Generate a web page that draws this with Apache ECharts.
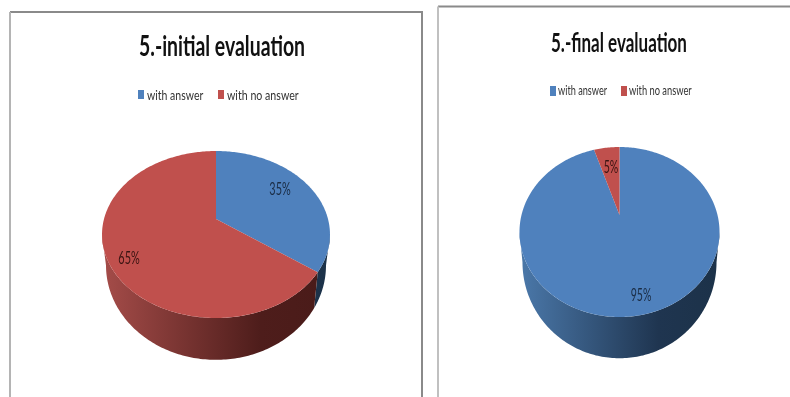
<!DOCTYPE html>
<html><head><meta charset="utf-8">
<style>html,body{margin:0;padding:0;background:#fff}#c{width:790px;height:397px;filter:blur(0.4px)}</style>
<script src="https://cdn.jsdelivr.net/npm/echarts@6/dist/echarts.min.js"></script>
</head><body><div id="c"></div>
<script>
const categories = ['with answer', 'with no answer'];
const initialValues = [35, 65];
const finalValues = [95, 5];
const titles = ['5.-initial evaluation', '5.-final evaluation'];

const topColors = ['#4f81bd', '#c0504d'];
const wallStops = [
  [[0, '#4a77a8'], [0.7, '#1f3550'], [1, '#1c3249']],
  [[0, '#a34b48'], [0.7, '#4e1d1b'], [1, '#4a1b19']]
];
const labelColors = ['#1a2c44', '#3a1412'];
const FONT = 'Lato,"Open Sans",sans-serif';

const discs = [
  {values: initialValues, cx: 216, cy: 219, a: 112, b: 80.6, k: 0.1856, sx: 0.965, sy: 1.13, dy: 29, x0: 106, x1: 326,
   labels: [[280, 190], [129, 259]], labelScale: 0.64},
  {values: finalValues, cx: 619.5, cy: 215, a: 98, b: 81.6, k: 0.2, sx: 0.97, sy: 1.13, dy: 28, x0: 522, x1: 717,
   labels: [[641, 296], [611, 168]], labelScale: 0.62}
];

function project(d, deg, lower) {
  const t = deg * Math.PI / 180, u = Math.sin(t), v = Math.cos(t), w = 1 + d.k * v;
  const X = d.a * u / w, Y = -d.b * v / w;
  return lower ? [d.cx + X * d.sx, d.cy + Y * d.sy + d.dy] : [d.cx + X, d.cy + Y];
}
function arc(d, from, to, lower) {
  const n = Math.max(2, Math.ceil(Math.abs(to - from))), pts = [];
  for (let i = 0; i <= n; i++) pts.push(project(d, from + (to - from) * i / n, lower));
  return pts;
}
function sliceItem(d, i) {
  return function () {
    const total = d.values.reduce((s, x) => s + x, 0);
    const before = d.values.slice(0, i).reduce((s, x) => s + x, 0);
    const start = before / total * 360, end = (before + d.values[i]) / total * 360;
    const edge = Math.acos(-d.k) * 180 / Math.PI;
    const children = [];
    const fa = Math.max(start, edge), fb = Math.min(end, 360 - edge);
    if (fb > fa) {
      children.push({
        type: 'polygon', silent: true,
        shape: {points: arc(d, fa, fb, false).concat(arc(d, fb, fa, true))},
        style: {fill: {type: 'linear', x: d.x0, y: 0, x2: d.x1, y2: 0, global: true,
          colorStops: wallStops[i].map(s => ({offset: s[0], color: s[1]}))}}
      });
    }
    children.push({
      type: 'polygon',
      shape: {points: [[d.cx, d.cy]].concat(arc(d, start, end, false))},
      style: {fill: topColors[i]}
    });
    children.push({
      type: 'text', silent: true, z2: 10,
      x: d.labels[i][0], y: d.labels[i][1], scaleX: d.labelScale,
      style: {x: 0, y: 0, text: d.values[i] + '%', align: 'center', verticalAlign: 'middle',
        fill: labelColors[i], font: '17px ' + FONT}
    });
    return {type: 'group', children};
  };
}

const series = [];
discs.forEach(d => categories.forEach((name, i) => series.push({
  type: 'custom', name, coordinateSystem: 'none', data: [d.values[i]],
  itemStyle: {color: topColors[i]}, renderItem: sliceItem(d, i), animation: false
})));

function line(x1, y1, x2, y2, stroke) {
  return {type: 'line', silent: true, shape: {x1, y1, x2, y2}, style: {stroke, lineWidth: 2}};
}
function squeezed(text, x, y, scaleX, font, fill) {
  return {type: 'text', silent: true, x, y, scaleX,
    style: {x: 0, y: 0, text, align: 'left', verticalAlign: 'middle', font, fill}};
}
function swatch(x, y, w, h, fill) {
  return {type: 'rect', silent: true, shape: {x, y, width: w, height: h}, style: {fill}};
}

const chart = echarts.init(document.getElementById('c'), null, {renderer: 'canvas'});
chart.setOption({
  backgroundColor: '#fff',
  animation: false,
  graphic: {elements: [
    line(10, 12, 423, 12, '#8a8a8a'), line(10, 12, 10, 397, '#b4b4b4'), line(422, 12, 422, 397, '#8a8a8a'),
    line(438, 6.5, 790, 6.5, '#8a8a8a'), line(438, 6.5, 438, 397, '#c0c0c0'),
    squeezed(titles[0], 139, 47, 0.67, 'bold 29px ' + FONT, '#111'),
    squeezed(titles[1], 551, 43, 0.63, 'bold 27px ' + FONT, '#111'),
    swatch(138, 90, 6, 9, topColors[0]),
    squeezed(categories[0], 147, 95, 0.75, '14px ' + FONT, '#333'),
    swatch(218, 90, 6, 9, topColors[1]),
    squeezed(categories[1], 227, 95, 0.76, '14px ' + FONT, '#333'),
    swatch(550, 86, 6, 10, topColors[0]),
    squeezed(categories[0], 558, 91, 0.68, '13.5px ' + FONT, '#333'),
    swatch(621, 86, 6, 10, topColors[1]),
    squeezed(categories[1], 629, 91, 0.69, '13.5px ' + FONT, '#333')
  ]},
  series
});
</script></body></html>
